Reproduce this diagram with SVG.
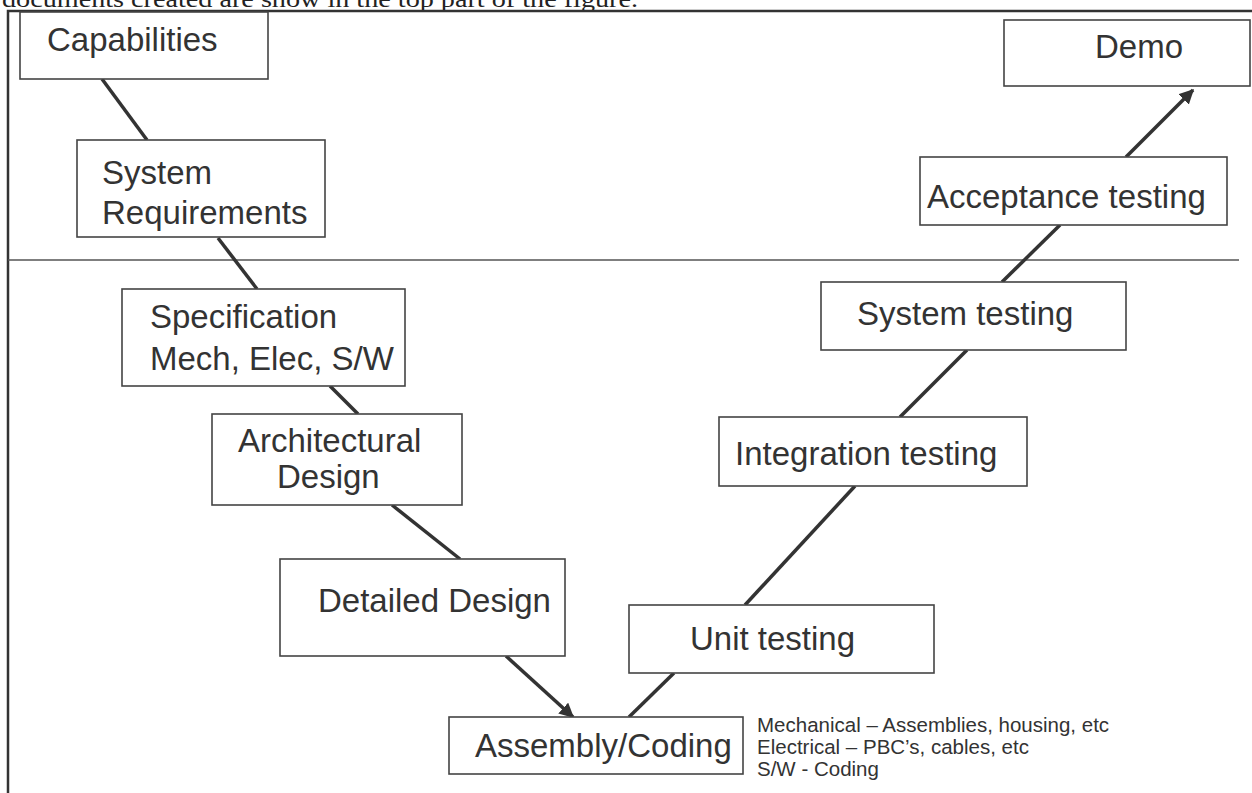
<svg xmlns="http://www.w3.org/2000/svg" width="1252" height="793" viewBox="0 0 1252 793">
  <defs>
    <marker id="arrow" viewBox="0 0 10 10" refX="9" refY="5" markerWidth="4.2" markerHeight="4.2" orient="auto" markerUnits="strokeWidth">
      <path d="M0,0 L10,5 L0,10 z" fill="#333"/>
    </marker>
    <style>
      .box { fill: #fff; stroke: #444; stroke-width: 1.6; }
      .lbl { font-family: "Liberation Sans", Arial, sans-serif; font-size: 33px; fill: #333; }
      .note { font-family: "Liberation Sans", Arial, sans-serif; font-size: 20.5px; fill: #333; }
      .link { stroke: #333; stroke-width: 3.5; fill: none; }
      .frame { stroke: #333; stroke-width: 2.5; fill: none; }
      .divider { stroke: #555; stroke-width: 1.6; fill: none; }
    </style>
  </defs>

  <rect width="1252" height="793" fill="#fff"/>

  <!-- running text above the figure frame -->
  <text x="2" y="7" font-family="'Liberation Serif', 'Times New Roman', serif" font-size="24" fill="#222" textLength="636" lengthAdjust="spacingAndGlyphs">documents created are show in the top part of the figure.</text>

  <!-- frame and section divider -->
  <g id="frame">
    <path class="frame" d="M8,793 V11 H1252"/>
    <path class="divider" d="M8,260 H1239"/>
  </g>

  <!-- connectors -->
  <g id="connectors">
    <line class="link" x1="102" y1="79" x2="147" y2="140"/>
    <line class="link" x1="218" y1="238" x2="257" y2="289"/>
    <line class="link" x1="330" y1="386" x2="358" y2="414"/>
    <line class="link" x1="392" y1="505" x2="460" y2="559"/>
    <line class="link" x1="506" y1="656" x2="573" y2="717" marker-end="url(#arrow)"/>
    <line class="link" x1="674" y1="673" x2="629" y2="717"/>
    <line class="link" x1="745" y1="605" x2="855" y2="486"/>
    <line class="link" x1="900" y1="417" x2="967" y2="350"/>
    <line class="link" x1="1002" y1="282" x2="1060" y2="225"/>
    <line class="link" x1="1126" y1="157" x2="1193" y2="90" marker-end="url(#arrow)"/>
  </g>

  <g id="capabilities">
    <rect class="box" x="20" y="12" width="248" height="67"/>
    <text class="lbl" x="47" y="51">Capabilities</text>
  </g>

  <g id="system-requirements">
    <rect class="box" x="77" y="140" width="248" height="97"/>
    <text class="lbl" x="102" y="184">System</text>
    <text class="lbl" x="102" y="224">Requirements</text>
  </g>

  <g id="specification">
    <rect class="box" x="122" y="289" width="283" height="97"/>
    <text class="lbl" x="150" y="328">Specification</text>
    <text class="lbl" x="150" y="370">Mech, Elec, S/W</text>
  </g>

  <g id="architectural-design">
    <rect class="box" x="212" y="414" width="250" height="91"/>
    <text class="lbl" x="238" y="452">Architectural</text>
    <text class="lbl" x="277" y="488">Design</text>
  </g>

  <g id="detailed-design">
    <rect class="box" x="280" y="559" width="285" height="97"/>
    <text class="lbl" x="318" y="612">Detailed Design</text>
  </g>

  <g id="assembly-coding">
    <rect class="box" x="449" y="717" width="294" height="57"/>
    <text class="lbl" x="475" y="757">Assembly/Coding</text>
  </g>

  <g id="assembly-notes">
    <text class="note" x="757" y="732">Mechanical – Assemblies, housing, etc</text>
    <text class="note" x="757" y="754">Electrical – PBC’s, cables, etc</text>
    <text class="note" x="757" y="776">S/W - Coding</text>
  </g>

  <g id="unit-testing">
    <rect class="box" x="629" y="605" width="305" height="68"/>
    <text class="lbl" x="690" y="650">Unit testing</text>
  </g>

  <g id="integration-testing">
    <rect class="box" x="719" y="417" width="308" height="69"/>
    <text class="lbl" x="735" y="465">Integration testing</text>
  </g>

  <g id="system-testing">
    <rect class="box" x="821" y="282" width="305" height="68"/>
    <text class="lbl" x="857" y="325">System testing</text>
  </g>

  <g id="acceptance-testing">
    <rect class="box" x="920" y="157" width="307" height="68"/>
    <text class="lbl" x="927" y="208">Acceptance testing</text>
  </g>

  <g id="demo">
    <rect class="box" x="1004" y="20" width="246" height="66"/>
    <text class="lbl" x="1095" y="58">Demo</text>
  </g>
</svg>
